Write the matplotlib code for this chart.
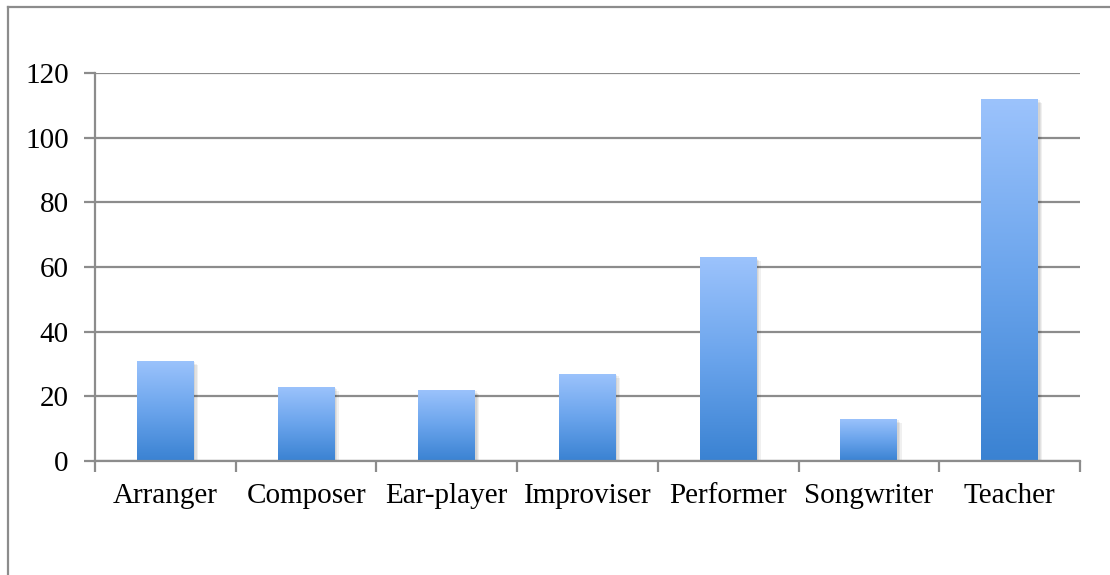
import numpy as np
import matplotlib
matplotlib.use("Agg")
import matplotlib.pyplot as plt
from matplotlib.colors import LinearSegmentedColormap
from matplotlib.lines import Line2D
import matplotlib.patheffects as pe

categories = ["Arranger", "Composer", "Ear-player", "Improviser",
              "Performer", "Songwriter", "Teacher"]
counts = [31, 23, 22, 27, 63, 13, 112]
y_ticks = [0, 20, 40, 60, 80, 100, 120]

plt.rcParams["font.family"] = ["Liberation Serif", "DejaVu Serif"]

fig = plt.figure(figsize=(11.1, 5.75), dpi=100)
W, H = 1110, 575
ax = fig.add_axes([95 / W, 1 - 461 / H, (1080 - 95) / W, (461 - 73) / H])

x = np.arange(len(categories))
bar_w = 0.405
ax.set_xlim(-0.5, len(categories) - 0.5)
ax.set_ylim(0, 120)

gradient = LinearSegmentedColormap.from_list("bar_grad", ["#3a82d2", "#6aa4ec", "#9cc3fc"])
grad_img = np.linspace(0, 1, 256).reshape(-1, 1)

# soft drop shadow built from a few faint offset layers
shadow = [pe.SimplePatchShadow(offset=(d, -d), shadow_rgbFace="#000000", alpha=0.06)
          for d in (1.0, 2.0, 3.0)]
bars = ax.bar(x, counts, width=bar_w, color="#7fb1f4", zorder=3,
              path_effects=shadow + [pe.Normal()])
for bar in bars:
    x0, y0 = bar.get_x(), bar.get_y()
    im = ax.imshow(grad_img, cmap=gradient, origin="lower", aspect="auto",
                   extent=[x0, x0 + bar.get_width(), y0, y0 + bar.get_height()],
                   zorder=4, interpolation="bilinear")
    im.set_clip_path(bar)

grid_c = "#8c8c8c"
ax.set_yticks(y_ticks)
ax.yaxis.grid(True, color=grid_c, linewidth=1.6, zorder=1)
ax.set_axisbelow(True)

ax.set_xticks(np.arange(len(categories) + 1) - 0.5)
ax.set_xticklabels([])
ax.set_xticks(x, minor=True)
ax.set_xticklabels(categories, minor=True)
ax.tick_params(axis="x", which="major", length=8, width=1.6, color=grid_c, direction="out")
ax.tick_params(axis="x", which="minor", length=0, pad=16, labelsize=21)
ax.tick_params(axis="y", length=8, width=1.6, color=grid_c, pad=11, labelsize=21)

for side in ["top", "right"]:
    ax.spines[side].set_visible(False)
for side in ["left", "bottom"]:
    ax.spines[side].set_color(grid_c)
    ax.spines[side].set_linewidth(1.6)
    ax.spines[side].set_zorder(5)

# outer chart frame (left and top edges)
fig.add_artist(Line2D([8 / W, 8 / W], [0, 1 - 7 / H], transform=fig.transFigure,
                      color=grid_c, linewidth=1.6))
fig.add_artist(Line2D([8 / W, 1], [1 - 7 / H, 1 - 7 / H], transform=fig.transFigure,
                      color=grid_c, linewidth=1.6))

fig.savefig("out.png", dpi=100)
